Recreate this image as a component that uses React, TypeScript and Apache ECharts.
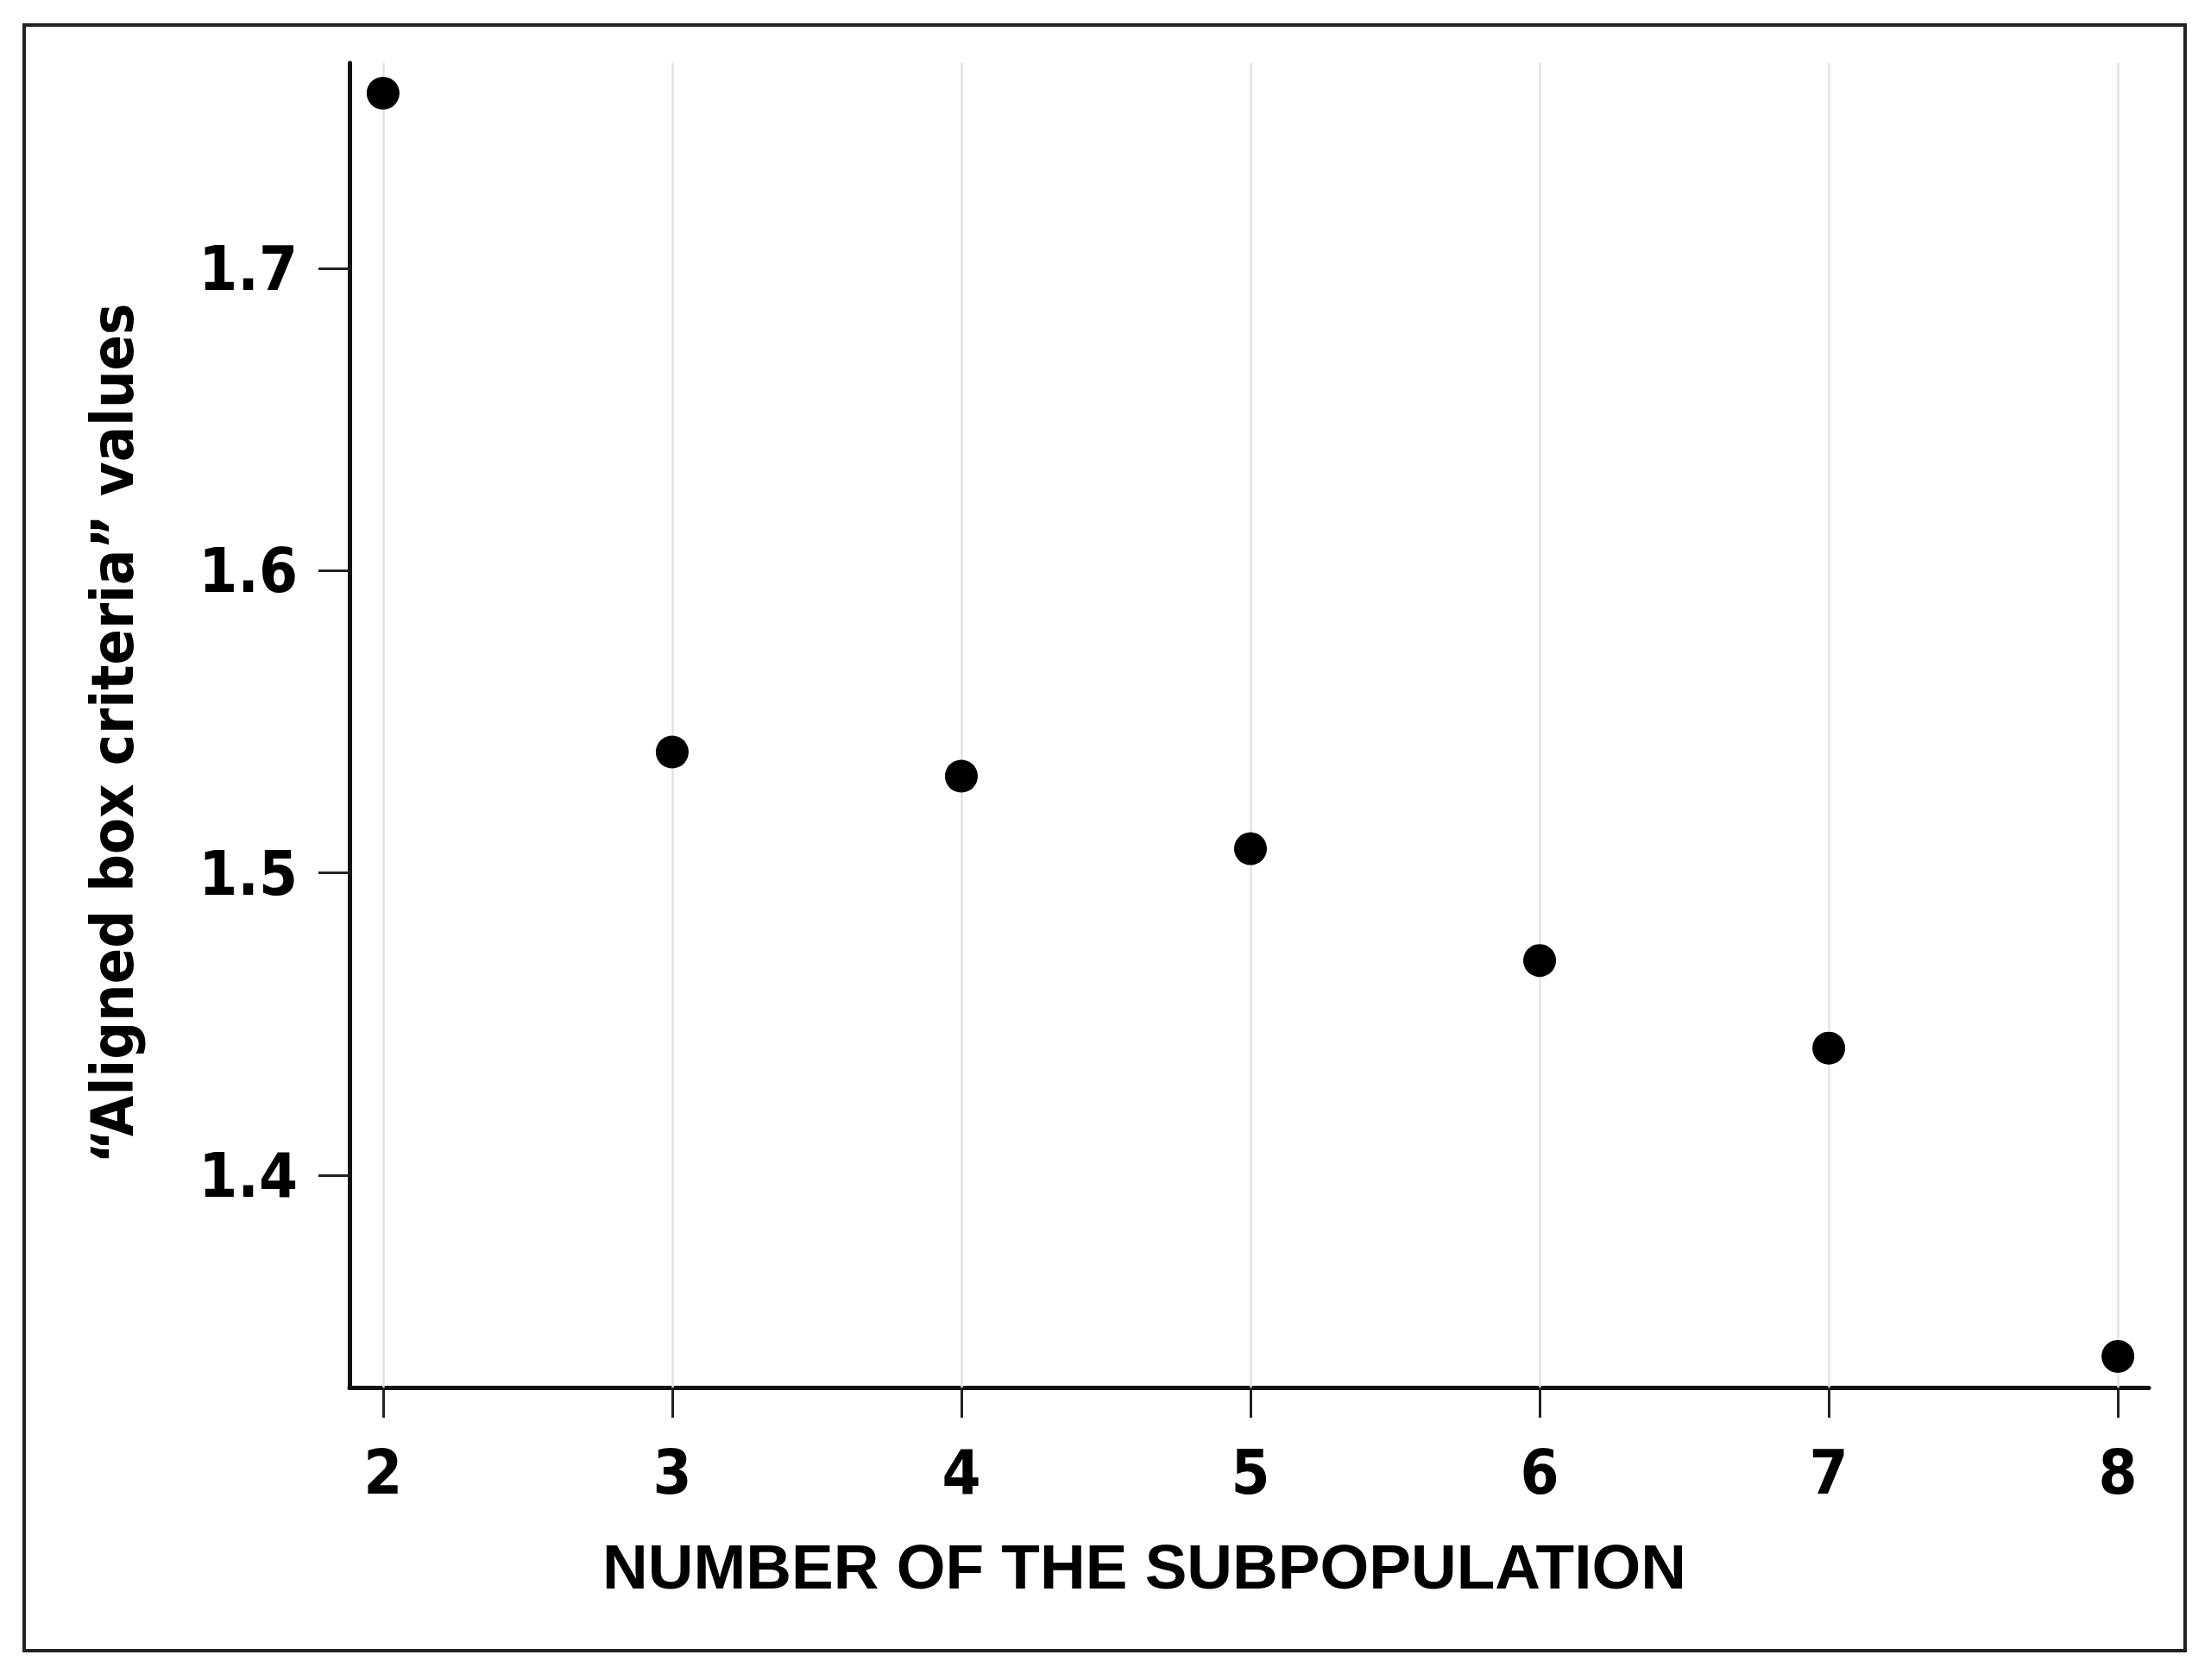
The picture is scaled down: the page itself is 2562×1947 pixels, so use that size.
import React, { useEffect, useRef } from "react";
import * as echarts from "echarts";

const subpopulations = [2, 3, 4, 5, 6, 7, 8];
const criteriaValues = [1.758, 1.540, 1.532, 1.508, 1.471, 1.442, 1.340];
const xTicks = [2, 3, 4, 5, 6, 7, 8];
const yTicks = [1.4, 1.5, 1.6, 1.7];
const xTitle = "NUMBER OF THE SUBPOPULATION";
const yTitle = "\u201CAligned box criteria\u201D values";

const labelFont = "'DejaVu Sans Condensed', 'DejaVu Sans', sans-serif";

export default function App() {
  const ref = useRef<HTMLDivElement>(null);
  useEffect(() => {
    const chart = echarts.init(ref.current!, null, { renderer: "svg" });
    chart.setOption({
      animation: false,
      backgroundColor: "#ffffff",
      grid: { left: 405, top: 73, width: 2085, height: 1535 },
      xAxis: {
        type: "value",
        min: 1.884,
        max: 8.107,
        axisLine: { show: true, onZero: false, lineStyle: { color: "#111", width: 5 } },
        axisTick: { show: true, customValues: xTicks, length: 35, lineStyle: { color: "#222", width: 3 } },
        axisLabel: {
          customValues: xTicks,
          margin: 62,
          color: "#000",
          fontSize: 72,
          fontWeight: "bold",
          fontFamily: labelFont,
        },
        splitLine: { show: false },
      },
      yAxis: {
        type: "value",
        min: 1.3297,
        max: 1.768,
        axisLine: { show: true, onZero: false, lineStyle: { color: "#111", width: 5 } },
        axisTick: { show: true, customValues: yTicks, length: 36, lineStyle: { color: "#222", width: 3 } },
        axisLabel: {
          customValues: yTicks,
          margin: 60,
          color: "#000",
          fontSize: 72,
          fontWeight: "bold",
          fontFamily: labelFont,
          formatter: (v: number) => v.toFixed(1),
        },
        splitLine: { show: false },
      },
      series: [
        {
          type: "scatter",
          data: subpopulations.map((x, i) => [x, criteriaValues[i]]),
          symbol: "circle",
          symbolSize: 38,
          itemStyle: { color: "#000", opacity: 1 },
          z: 10,
          markLine: {
            silent: true,
            symbol: "none",
            z: 1,
            label: { show: false },
            lineStyle: { color: "#e2e2e2", width: 2.5, type: "solid", opacity: 1 },
            data: xTicks.map((v) => ({ xAxis: v })),
          },
        },
      ],
      graphic: [
        {
          type: "rect",
          shape: { x: 28, y: 29, width: 2504, height: 1884 },
          style: { fill: "none", stroke: "#222", lineWidth: 4 },
          silent: true,
        },
        {
          type: "text",
          x: 1326,
          y: 1815,
          style: {
            text: xTitle,
            fill: "#000",
            fontSize: 73,
            fontWeight: "bold",
            fontFamily: "'Liberation Sans', Arial, sans-serif",
            align: "center",
            verticalAlign: "middle",
          },
        },
        {
          type: "text",
          x: 130,
          y: 850,
          rotation: Math.PI / 2,
          style: {
            text: yTitle,
            fill: "#000",
            fontSize: 68,
            fontWeight: "bold",
            fontFamily: labelFont,
            align: "center",
            verticalAlign: "middle",
          },
        },
      ],
    });
    return () => chart.dispose();
  }, []);
  return (
    <div
      ref={ref}
      style={{ position: "absolute", left: 0, top: 0, width: 2562, height: 1947 }}
    />
  );
}
